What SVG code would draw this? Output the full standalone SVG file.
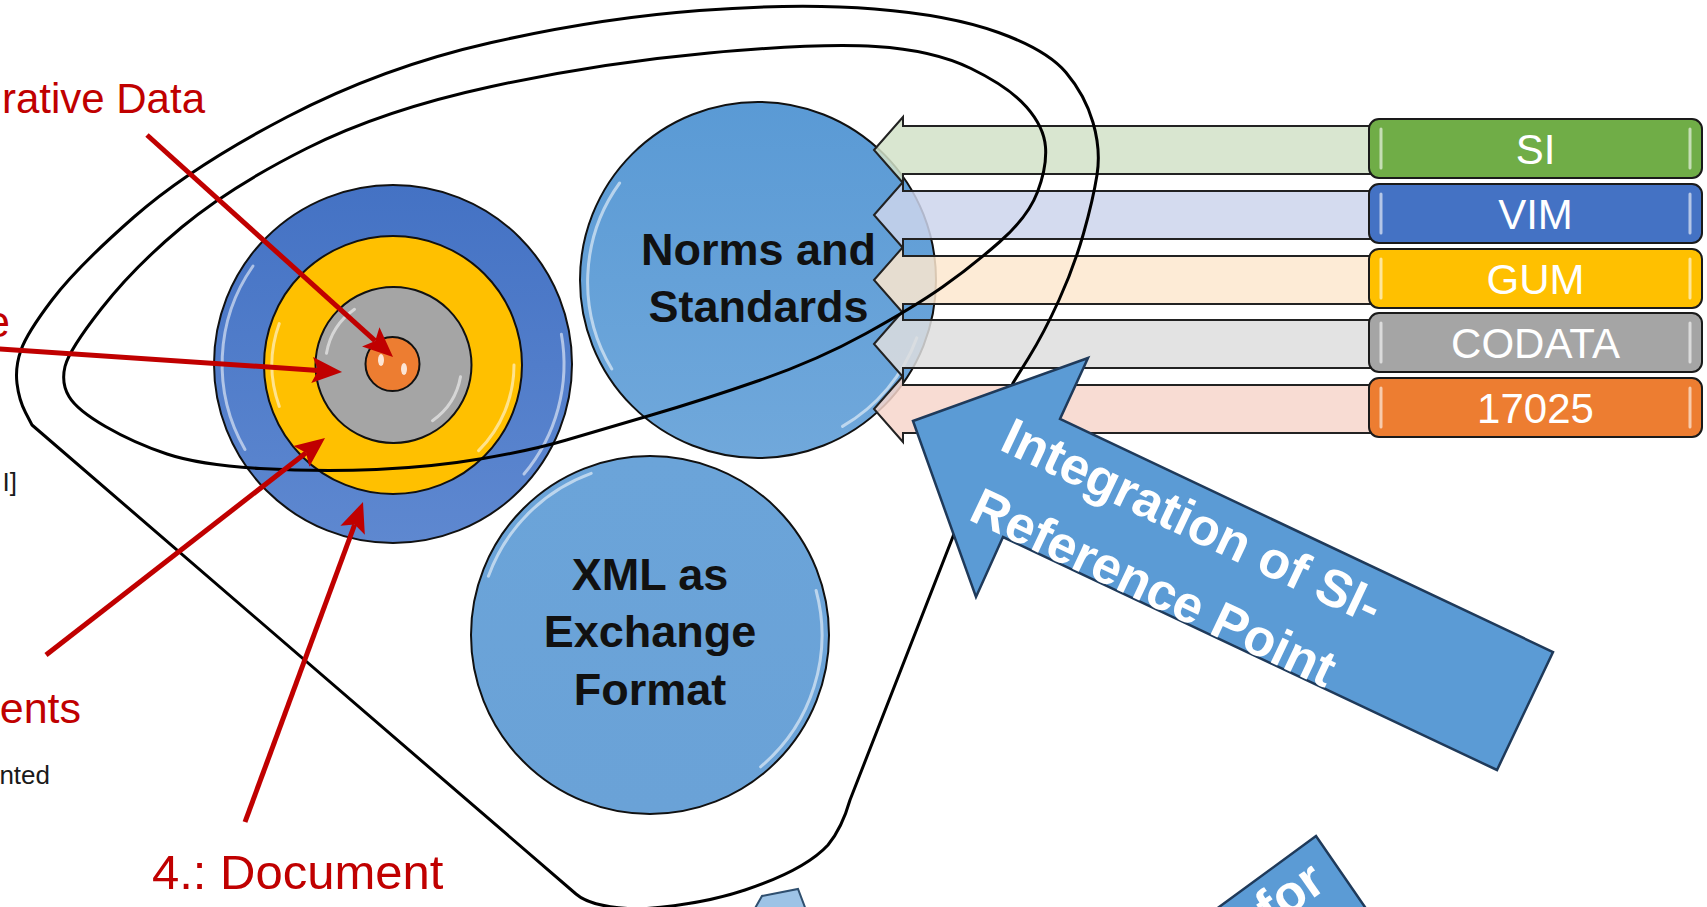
<svg xmlns="http://www.w3.org/2000/svg" width="1707" height="907" viewBox="0 0 1707 907">
<defs>
<style>
.red{font-family:"Liberation Sans",Arial,sans-serif;fill:#C00000}
.blk{font-family:"Liberation Sans",Arial,sans-serif;fill:#1a1a1a;font-size:26px;text-anchor:end}
.ctext{font-family:"Liberation Sans",Arial,sans-serif;font-weight:bold;font-size:45px;fill:#111;text-anchor:middle}
.btext{font-family:"Liberation Sans",Arial,sans-serif;font-size:42px;fill:#fff;text-anchor:middle}
.atext{font-family:"Liberation Sans",Arial,sans-serif;font-weight:bold;font-size:52px;fill:#fff}
.ring{stroke:#111;stroke-width:2}
.hl{fill:none;stroke:#fff;stroke-width:3;stroke-linecap:round;opacity:.55}
.loop{fill:none;stroke:#000;stroke-width:3;stroke-linejoin:round}
.redline{stroke:#C00000;stroke-width:5;fill:none;marker-end:url(#rh)}
.larrow{stroke:#222;stroke-width:2;fill-opacity:.85}
.box{stroke:#1a1a1a;stroke-width:2}
.bigarrow{fill:#5B9BD5;stroke:#1F3A5A;stroke-width:2.5}
.boxhl{stroke:#fff;stroke-width:3;stroke-linecap:round;fill:none;opacity:.6}
</style>
<marker id="rh" markerUnits="userSpaceOnUse" markerWidth="40" markerHeight="40" viewBox="-10 -20 40 40" refX="0" refY="0" orient="auto">
<path d="M24,0 L-6,-13 L0,0 L-6,13 Z" fill="#C00000"/>
</marker>
<linearGradient id="gBlue" x1="0" y1="0" x2="0" y2="1"><stop offset="0" stop-color="#4472C4"/><stop offset="1" stop-color="#5E88D0"/></linearGradient>
<linearGradient id="gNorm" x1="0" y1="0" x2="0" y2="1"><stop offset="0" stop-color="#5A9AD5"/><stop offset="1" stop-color="#70A8DB"/></linearGradient>
<linearGradient id="gXml" x1="0" y1="0" x2="0" y2="1"><stop offset="0" stop-color="#6BA4D9"/><stop offset="1" stop-color="#6AA2D7"/></linearGradient>
<path id="la" d="M874,31 L903,-2 L903,7 L1372,7 L1372,55 L903,55 L903,64 Z"/>
</defs>
<rect width="1707" height="907" fill="#fff"/>

<g id="target">
<circle class="ring" cx="393" cy="364" r="179" fill="url(#gBlue)"/>
<path class="hl" d="M245,449.5 A171,171 0 0,1 253,266"/>
<path class="hl" d="M561.4,334.3 A171,171 0 0,1 524,474"/>
<circle class="ring" cx="393" cy="365" r="129" fill="#FFC000"/>
<path class="hl" d="M279.3,406.4 A121,121 0 0,1 279.3,323.6"/>
<path class="hl" d="M514,365 A121,121 0 0,1 478.6,450.6"/>
<circle class="ring" cx="393.5" cy="365" r="78" fill="#A5A5A5"/>
<path class="hl" d="M326.5,353.2 A68,68 0 0,1 354.5,309.3" stroke-width="5"/>
<path class="hl" d="M460.5,376.8 A68,68 0 0,1 432.5,420.7" stroke-width="4"/>
<circle class="ring" cx="392.5" cy="364" r="27" fill="#ED7D31"/>
<ellipse cx="381" cy="360" rx="3" ry="6" fill="#fff" opacity=".8"/>
<ellipse cx="404" cy="369" rx="3" ry="6" fill="#fff" opacity=".8"/>
</g>

<g id="norms">
<circle class="ring" cx="758" cy="280" r="178" fill="url(#gNorm)"/>
<path class="hl" d="M611.8,369 A169,169 0 0,1 619.6,183"/>
<path class="hl" d="M916.8,337.8 A169,169 0 0,1 842.5,426.4"/>
<text class="ctext" x="758.5" y="265">Norms and</text>
<text class="ctext" x="758.5" y="322">Standards</text>
</g>

<g id="xml">
<circle class="ring" cx="650" cy="635" r="179" fill="url(#gXml)"/>
<path class="hl" d="M816.1,590.5 A172,172 0 0,1 760.6,766.8"/>
<path class="hl" d="M488.4,576.2 A172,172 0 0,1 591.2,473.4"/>
<text class="ctext" x="650" y="590">XML as</text>
<text class="ctext" x="650" y="647">Exchange</text>
<text class="ctext" x="650" y="705">Format</text>
</g>

<g id="feed-arrows">
<use href="#la" y="119" class="larrow" fill="#D2E2C8"/>
<use href="#la" y="184" class="larrow" fill="#CDD5EC"/>
<use href="#la" y="249" class="larrow" fill="#FDE8CF"/>
<use href="#la" y="313" class="larrow" fill="#DEDEDE"/>
<use href="#la" y="378" class="larrow" fill="#F7D6CB"/>
</g>

<g id="box-si">
<rect class="box" x="1369" y="119" width="333" height="59" rx="10" fill="#70AD47"/>
<path class="boxhl" d="M1381,129 V168 M1690,129 V168"/>
<text class="btext" x="1535.5" y="164">SI</text>
</g>
<g id="box-vim">
<rect class="box" x="1369" y="184" width="333" height="59" rx="10" fill="#4472C4"/>
<path class="boxhl" d="M1381,194 V233 M1690,194 V233"/>
<text class="btext" x="1535.5" y="229">VIM</text>
</g>
<g id="box-gum">
<rect class="box" x="1369" y="249" width="333" height="59" rx="10" fill="#FFC000"/>
<path class="boxhl" d="M1381,259 V298 M1690,259 V298"/>
<text class="btext" x="1535.5" y="294">GUM</text>
</g>
<g id="box-codata">
<rect class="box" x="1369" y="313" width="333" height="59" rx="10" fill="#A5A5A5"/>
<path class="boxhl" d="M1381,323 V362 M1690,323 V362"/>
<text class="btext" x="1535.5" y="358">CODATA</text>
</g>
<g id="box-17025">
<rect class="box" x="1369" y="378" width="333" height="59" rx="10" fill="#ED7D31"/>
<path class="boxhl" d="M1381,388 V427 M1690,388 V427"/>
<text class="btext" x="1535.5" y="423">17025</text>
</g>

<g id="funnel">
<path class="loop" d="M32,425 L576,894 Q592,908 640,909 Q700,905 745,890 Q805,870 828,845 Q842,828 850,800 L1013,383 L1028.5,358 Q1044,333 1059,300 Q1074,267 1083.5,233.5 Q1093,200 1097,175 Q1101,150 1093,122.5 Q1085,95 1066,72.5 Q1047,50 998.5,32.5 Q950,15 874.5,9 Q799,3 699.5,10.5 Q600,18 491.5,42.5 Q383,67 287,117 Q191,167 134,217 Q77,267 52,300 Q27,333 21,350 Q15,367 17,383.5 Q19,400 25.5,412.5 Z"/>
<path class="loop" d="M65,366.5 Q69,350 101.5,308.5 Q134,267 182,227 Q230,187 306.5,148.5 Q383,110 491.5,86.5 Q600,63 709,53 Q818,43 875.5,46.5 Q933,50 971,68.5 Q1009,87 1026.5,107 Q1044,127 1045.5,147 Q1047,167 1037.5,192 Q1028,217 999.5,242 Q971,267 942.5,287 Q914,307 866,333.5 Q818,360 760.5,380 Q703,400 651.5,415 Q600,430 566.5,440 Q533,450 483,458.5 Q433,467 376.5,469.5 Q320,472 260,468.5 Q200,465 167,454 Q134,443 105.5,426.5 Q77,410 69,396.5 Q61,383 65,366.5 Z"/>
</g>

<g id="connectors">
<line class="redline" x1="147" y1="135" x2="375.2" y2="340.9"/>
<line class="redline" x1="-5" y1="348.7" x2="318.1" y2="370.4"/>
<line class="redline" x1="46" y1="655" x2="306.1" y2="452.7"/>
<line class="redline" x1="245" y1="822" x2="354.7" y2="524.5"/>
</g>

<g id="labels">
<text class="red" x="205" y="113" font-size="42" text-anchor="end">rative Data</text>
<text class="red" x="10" y="337" font-size="44" text-anchor="end">e</text>
<text class="red" x="81" y="723" font-size="43" text-anchor="end">ents</text>
<text class="red" x="152" y="889" font-size="49">4.: Document</text>
<text class="blk" x="17" y="491">I]</text>
<text class="blk" x="50" y="784">nted</text>
</g>

<g id="integration-arrow">
<path class="bigarrow" d="M913,421 L1088,358 L1060,419 L1553,652 L1497,770 L1003,537 L976,597 Z"/>
<g transform="translate(998,449) rotate(25.3)">
<text class="atext" x="0" y="0">Integration of SI-</text>
<text class="atext" x="2" y="76.5">Reference Point</text>
</g>
</g>

<g id="for-arrow">
<path class="bigarrow" d="M1215,910 L1316,836 L1367,910 Z"/>
<text class="atext" transform="translate(1328,888) rotate(-35)" text-anchor="end">for</text>
</g>

<g id="bottom-arrow">
<path d="M754,910 L762,896 L798,889 L806,910 Z" fill="#9DC3E6" stroke="#2F4F6F" stroke-width="2"/>
</g>
</svg>
